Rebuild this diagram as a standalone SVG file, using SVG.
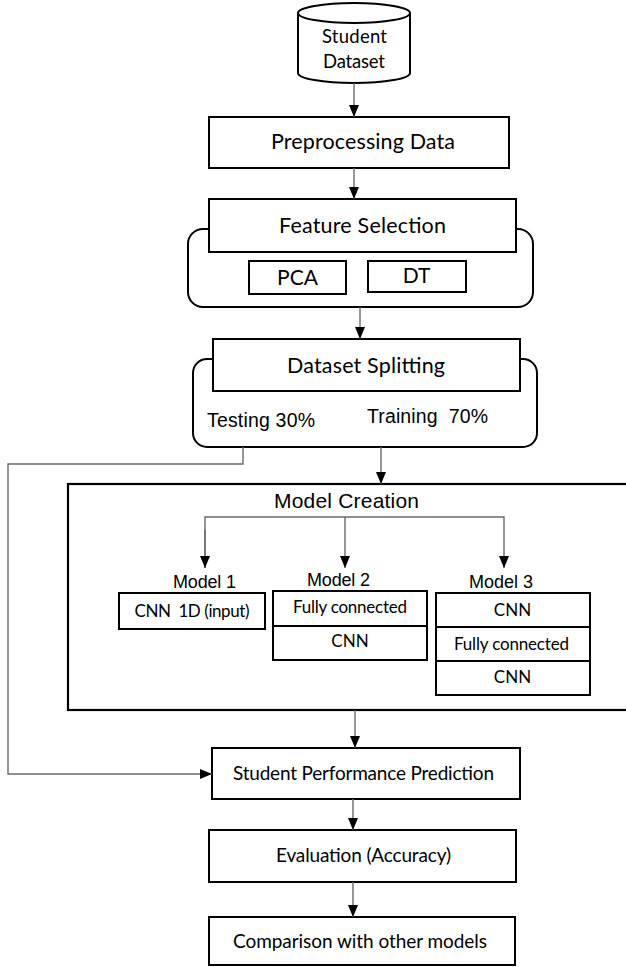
<svg xmlns="http://www.w3.org/2000/svg" width="626" height="967" viewBox="0 0 626 967">
  <style>
    .box { fill: #ffffff; stroke: #000000; stroke-width: 2; }
    .frame { fill: #ffffff; stroke: #000000; stroke-width: 2.2; }
    .cal { font-family: Lato, "Open Sans", "Liberation Sans", sans-serif; fill: #000000; text-anchor: middle; white-space: pre; }
    .hel { font-family: "Liberation Sans", Arial, sans-serif; fill: #000000; white-space: pre; }
    .conn { fill: none; stroke: #6a6a6a; stroke-width: 1.4; }
  </style>
  <defs>
    <marker id="arrow" viewBox="0 0 12 10" refX="12" refY="5" markerWidth="12" markerHeight="10" markerUnits="userSpaceOnUse" orient="auto">
      <path d="M0,0 L12,5 L0,10 z" fill="#000000"/>
    </marker>
  </defs>

  <rect width="626" height="967" fill="#ffffff"/>

  <!-- Student Dataset (database cylinder) -->
  <g id="student-dataset">
    <path class="box" d="M298,13 L298,73 A56,10 0 0 0 410,73 L410,13"/>
    <ellipse class="box" cx="354" cy="13" rx="56" ry="10"/>
    <text class="cal" x="354.5" y="43" font-size="18.5" textLength="65">Student</text>
    <text class="cal" x="354" y="68" font-size="18.5" textLength="62">Dataset</text>
  </g>

  <!-- Preprocessing -->
  <g id="preprocessing">
    <rect class="box" x="209" y="117" width="300" height="51"/>
    <text class="cal" x="363" y="149" font-size="21.5" textLength="184">Preprocessing Data</text>
  </g>

  <!-- Feature selection with its two methods -->
  <g id="feature-selection">
    <rect class="box" x="188" y="229" width="345" height="78" rx="15" ry="15"/>
    <rect class="box" x="209" y="199" width="307" height="53"/>
    <text class="cal" x="362.5" y="233" font-size="21.5" textLength="167">Feature Selection</text>
    <rect class="box" x="249" y="261" width="97" height="33"/>
    <text class="cal" x="297.5" y="285" font-size="21">PCA</text>
    <rect class="box" x="368" y="261" width="98" height="31"/>
    <text class="cal" x="416.5" y="283" font-size="21">DT</text>
  </g>

  <!-- Dataset splitting -->
  <g id="dataset-splitting">
    <rect class="box" x="193" y="359" width="344" height="88" rx="14" ry="14"/>
    <rect class="box" x="213" y="339" width="307" height="52"/>
    <text class="cal" x="366" y="373" font-size="21.5" textLength="158">Dataset Splitting</text>
    <text class="hel" x="207" y="427" font-size="19.5" textLength="108">Testing 30%</text>
    <text class="hel" x="367" y="423" font-size="19.5" textLength="121">Training  70%</text>
  </g>

  <!-- Model creation frame -->
  <g id="model-creation">
    <rect class="frame" x="68" y="484" width="570" height="226"/>
    <text class="hel" x="274" y="508" font-size="21" textLength="145">Model Creation</text>
  </g>

  <g id="model-1">
    <text class="hel" x="173" y="588" font-size="18" textLength="63">Model 1</text>
    <rect class="box" x="119" y="593" width="146" height="36"/>
    <text class="cal" x="192" y="617" font-size="17" textLength="115">CNN  1D (input)</text>
  </g>

  <g id="model-2">
    <text class="hel" x="307" y="586" font-size="18" textLength="63">Model 2</text>
    <rect class="box" x="273" y="591" width="154" height="35"/>
    <text class="cal" x="350" y="613" font-size="17" textLength="114">Fully connected</text>
    <rect class="box" x="273" y="626" width="154" height="34"/>
    <text class="cal" x="350" y="647" font-size="17">CNN</text>
  </g>

  <g id="model-3">
    <text class="hel" x="469" y="588" font-size="18" textLength="64">Model 3</text>
    <rect class="box" x="436" y="593" width="154" height="34"/>
    <text class="cal" x="512.5" y="616" font-size="17">CNN</text>
    <rect class="box" x="436" y="627" width="154" height="34"/>
    <text class="cal" x="511.5" y="650" font-size="17" textLength="115">Fully connected</text>
    <rect class="box" x="436" y="661" width="154" height="34"/>
    <text class="cal" x="512.5" y="683" font-size="17">CNN</text>
  </g>

  <!-- Prediction, evaluation, comparison -->
  <g id="prediction">
    <rect class="box" x="212" y="748" width="308" height="51"/>
    <text class="cal" x="363.5" y="780" font-size="19" textLength="261">Student Performance Prediction</text>
  </g>

  <g id="evaluation">
    <rect class="box" x="209" y="830" width="307" height="52"/>
    <text class="cal" x="363.5" y="862" font-size="19" textLength="175">Evaluation (Accuracy)</text>
  </g>

  <g id="comparison">
    <rect class="box" x="209" y="917" width="306" height="48"/>
    <text class="cal" x="360" y="948" font-size="19" textLength="254">Comparison with other models</text>
  </g>

  <!-- Connectors -->
  <g id="connectors">
    <line class="conn" x1="354" y1="83" x2="354" y2="117" marker-end="url(#arrow)"/>
    <line class="conn" x1="354" y1="168" x2="354" y2="199" marker-end="url(#arrow)"/>
    <line class="conn" x1="360" y1="307" x2="360" y2="339" marker-end="url(#arrow)"/>
    <line class="conn" x1="381" y1="447" x2="381" y2="484" marker-end="url(#arrow)"/>
    <polyline class="conn" points="243,447 243,464 8,464 8,774 212,774" marker-end="url(#arrow)"/>
    <polyline class="conn" points="205,568 205,517 504,517 504,568" marker-end="url(#arrow)"/>
    <line class="conn" x1="205" y1="530" x2="205" y2="568" marker-end="url(#arrow)"/>
    <line class="conn" x1="345" y1="517" x2="345" y2="568" marker-end="url(#arrow)"/>
    <line class="conn" x1="355" y1="710" x2="355" y2="748" marker-end="url(#arrow)"/>
    <line class="conn" x1="353" y1="799" x2="353" y2="830" marker-end="url(#arrow)"/>
    <line class="conn" x1="353" y1="882" x2="353" y2="917" marker-end="url(#arrow)"/>
  </g>
</svg>
